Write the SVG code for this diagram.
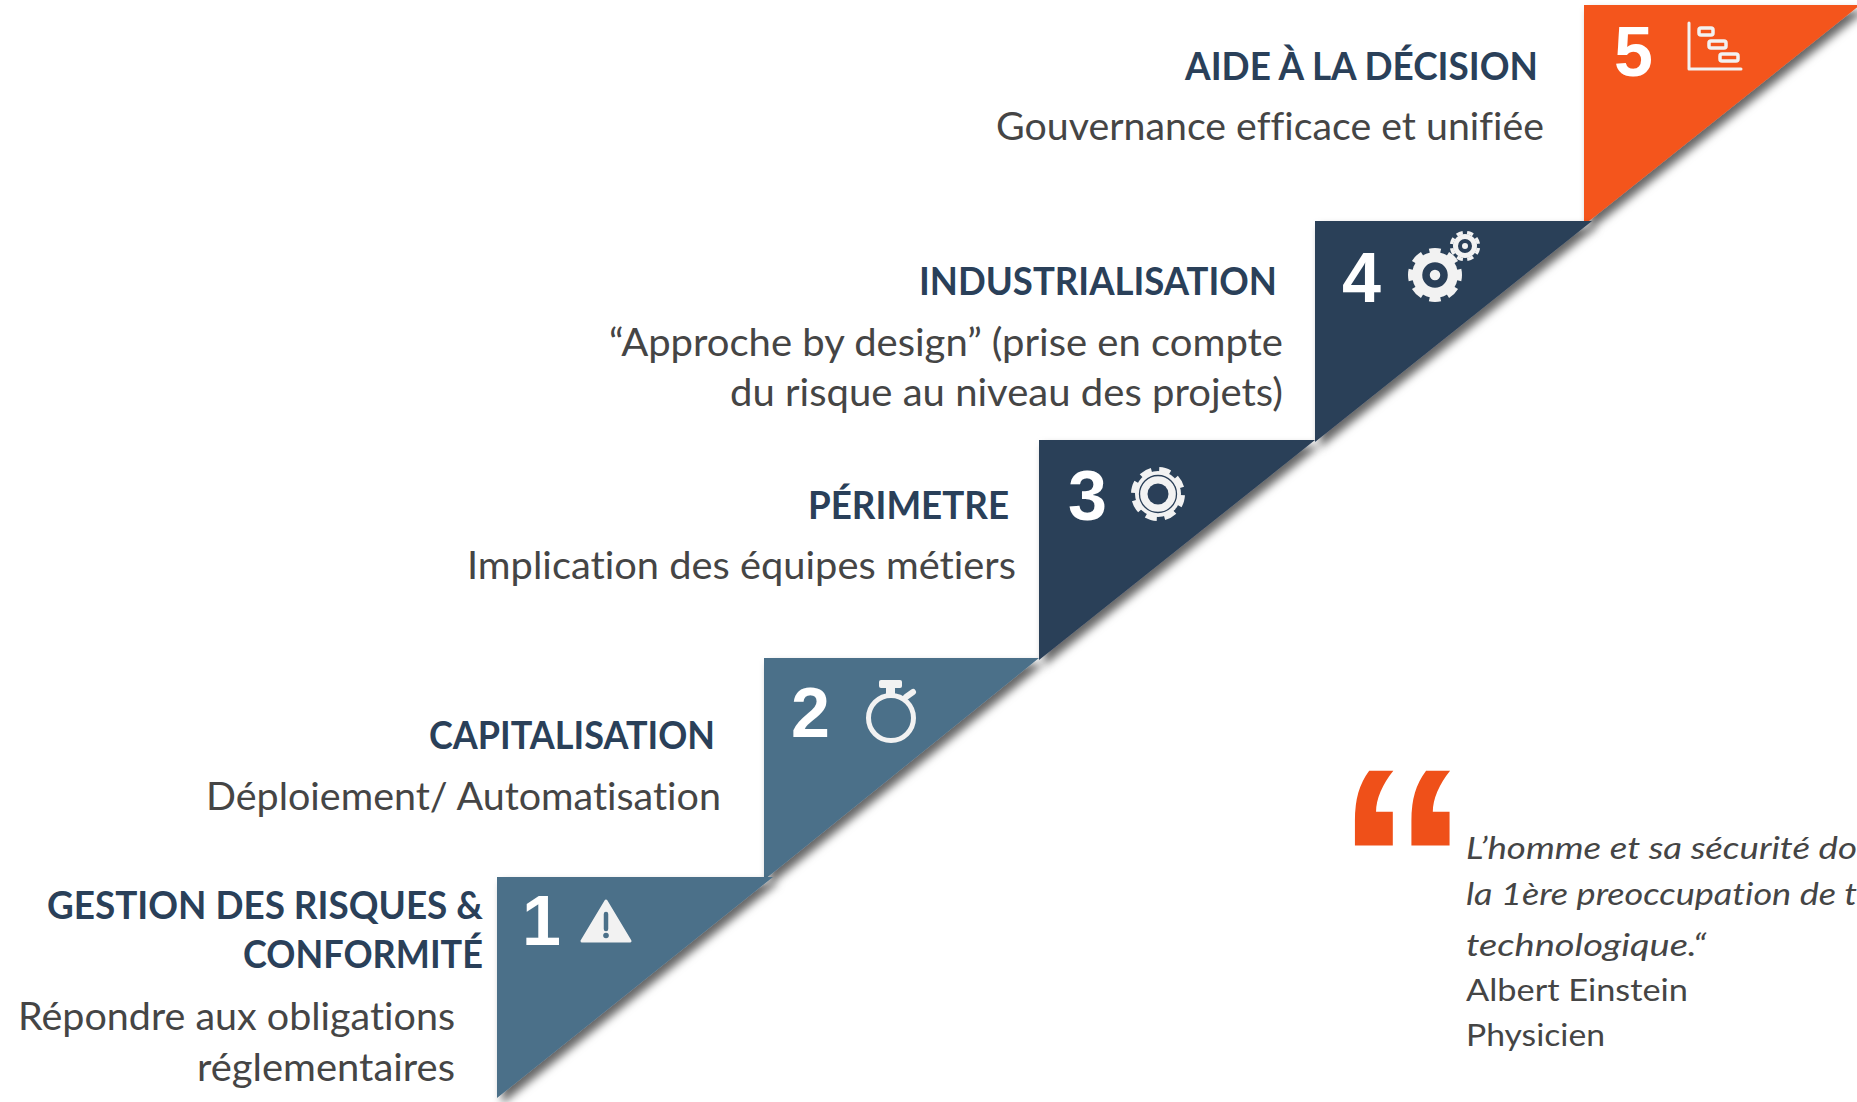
<svg xmlns="http://www.w3.org/2000/svg" width="1857" height="1102" viewBox="0 0 1857 1102">
<style>
text{font-variant-ligatures:none}
.h{font-family:Lato,"Liberation Sans",sans-serif;font-weight:700;font-size:39px;fill:#2a4059}
.b{font-family:Lato,"Liberation Sans",sans-serif;font-weight:400;font-size:39.5px;fill:#454545}
.q{font-family:Lato,"Liberation Sans",sans-serif;font-size:31.5px;fill:#454545}
.i{font-style:italic}
.n{font-family:"Liberation Sans",Arial,sans-serif;font-weight:700;font-size:70px;fill:#fff}
.tri{filter:url(#sh)}
.ln{fill:none;stroke:#f2f2f2;stroke-linecap:round;stroke-linejoin:round}
.lt{fill:#f2f2f2}
</style>
<defs>
<filter id="sh" x="-10%" y="-10%" width="125%" height="125%">
<feDropShadow dx="5" dy="6" stdDeviation="4" flood-color="#000" flood-opacity=".6"/>
</filter>
</defs>
<rect width="1857" height="1102" fill="#fff"/>

<g id="step5">
<polygon class="tri" points="1584,5 1860,5 1584,225" fill="#f4541d"/>
<text class="n" x="1614" y="76">5</text>
<path class="ln" stroke-width="3" d="M1689,23V69H1741"/>
<g class="ln" stroke-width="3.5" fill="none">
<rect x="1699" y="28" width="14" height="7" rx="2"/>
<rect x="1709" y="41" width="17" height="7" rx="2"/>
<rect x="1720" y="54" width="18" height="7" rx="2"/>
</g>
<text class="h" x="1185" y="80" textLength="353" lengthAdjust="spacingAndGlyphs">AIDE À LA DÉCISION</text>
<text class="b" x="996" y="140" textLength="548" lengthAdjust="spacingAndGlyphs">Gouvernance efficace et unifiée</text>
</g>

<g id="step4">
<polygon class="tri" points="1315,221 1592,221 1315,442" fill="#2a3f58"/>
<text class="n" x="1342" y="302">4</text>
<circle class="lt" cx="1435" cy="275" r="23"/>
<circle cx="1435" cy="275" r="24.5" fill="none" stroke="#f2f2f2" stroke-width="5" pathLength="80" stroke-dasharray="6 4" stroke-dashoffset="3"/>
<circle cx="1435" cy="275" r="9" fill="none" stroke="#2a3f58" stroke-width="7.5"/>
<circle class="lt" cx="1465" cy="246" r="12"/>
<circle cx="1465" cy="246" r="13.5" fill="none" stroke="#f2f2f2" stroke-width="3.5" pathLength="80" stroke-dasharray="6 4" stroke-dashoffset="3" transform="rotate(22 1465 246)"/>
<circle cx="1465" cy="246" r="5" fill="none" stroke="#2a3f58" stroke-width="4"/>
<text class="h" x="919" y="295" textLength="358" lengthAdjust="spacingAndGlyphs">INDUSTRIALISATION</text>
<text class="b" x="609" y="356" textLength="674" lengthAdjust="spacingAndGlyphs">“Approche by design” (prise en compte</text>
<text class="b" x="730" y="406" textLength="553" lengthAdjust="spacingAndGlyphs">du risque au niveau des projets)</text>
</g>

<g id="step3">
<polygon class="tri" points="1039,440 1315,440 1039,660" fill="#2a3f58"/>
<text class="n" x="1068" y="520">3</text>
<circle class="lt" cx="1158" cy="494" r="23"/>
<circle cx="1158" cy="494" r="24.5" fill="none" stroke="#f2f2f2" stroke-width="5" pathLength="80" stroke-dasharray="6 4" stroke-dashoffset="3" transform="rotate(16 1158 494)"/>
<circle cx="1158" cy="494" r="18.5" fill="none" stroke="#2a3f58" stroke-width="1.3"/>
<circle cx="1158" cy="494" r="10.5" fill="#2a3f58"/>
<text class="h" x="808" y="519" textLength="201" lengthAdjust="spacingAndGlyphs">PÉRIMETRE</text>
<text class="b" x="467" y="579" textLength="549" lengthAdjust="spacingAndGlyphs">Implication des équipes métiers</text>
</g>

<g id="step2">
<polygon class="tri" points="764,658 1039,658 764,880" fill="#4b7089"/>
<text class="n" x="791" y="737">2</text>
<circle cx="891" cy="718" r="22.5" fill="none" stroke="#f2f2f2" stroke-width="5"/>
<rect class="lt" x="879" y="680" width="23" height="8" rx="2"/>
<rect class="lt" x="886" y="687" width="9" height="9"/>
<path class="ln" stroke-width="6" d="M906,697L913,692"/>
<text class="h" x="429" y="749" textLength="286" lengthAdjust="spacingAndGlyphs">CAPITALISATION</text>
<text class="b" x="206" y="810" textLength="515" lengthAdjust="spacingAndGlyphs">Déploiement/ Automatisation</text>
</g>

<g id="step1">
<polygon class="tri" points="497,877 773,877 497,1098" fill="#4b7089"/>
<text class="n" x="522" y="945">1</text>
<path d="M606,901L630,941H582Z" fill="#f2f2f2" stroke="#f2f2f2" stroke-width="3" stroke-linejoin="round"/>
<path d="M606,914V929" stroke="#4b7089" stroke-width="4.5" stroke-linecap="round" fill="none"/>
<circle cx="606" cy="935.5" r="2.8" fill="#4b7089"/>
<text class="h" x="47" y="919" textLength="436" lengthAdjust="spacingAndGlyphs">GESTION DES RISQUES &amp;</text>
<text class="h" x="243" y="968" textLength="240" lengthAdjust="spacingAndGlyphs">CONFORMITÉ</text>
<text class="b" x="18" y="1030" textLength="437" lengthAdjust="spacingAndGlyphs">Répondre aux obligations</text>
<text class="b" x="197" y="1081" textLength="258" lengthAdjust="spacingAndGlyphs">réglementaires</text>
</g>

<g id="quote">
<text x="0" y="0" transform="translate(1335,953) scale(1.02,1)" font-family="'Liberation Sans',Arial,sans-serif" font-weight="700" font-size="265" fill="#ef5019">“</text>
<text class="q i" x="1466" y="859" textLength="391" lengthAdjust="spacingAndGlyphs">L’homme et sa sécurité do</text>
<text class="q i" x="1466" y="905" textLength="391" lengthAdjust="spacingAndGlyphs">la 1ère preoccupation de t</text>
<text class="q i" x="1466" y="956" textLength="240" lengthAdjust="spacingAndGlyphs">technologique.“</text>
<text class="q" x="1466" y="1001" textLength="222" lengthAdjust="spacingAndGlyphs">Albert Einstein</text>
<text class="q" x="1466" y="1046" textLength="139" lengthAdjust="spacingAndGlyphs">Physicien</text>
</g>
</svg>
